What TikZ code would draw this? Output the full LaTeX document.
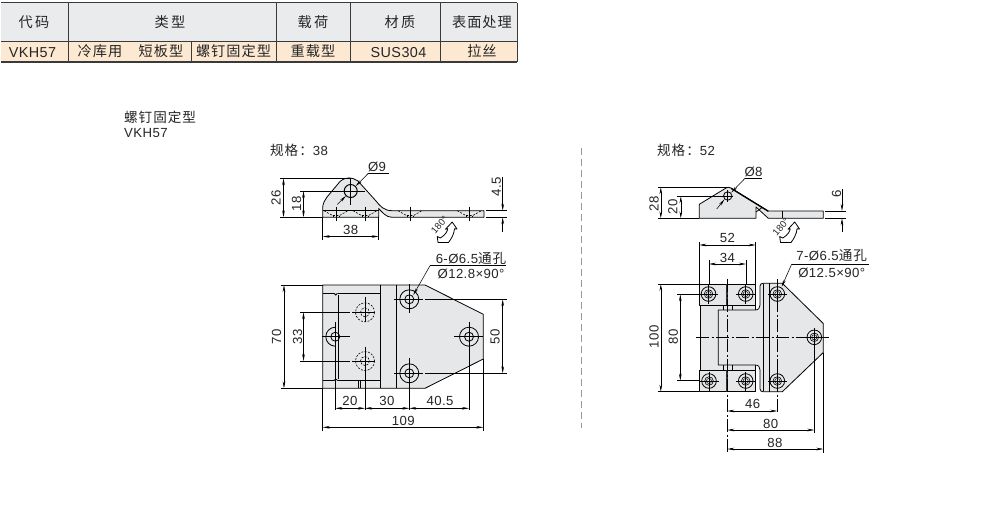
\documentclass[tikz,border=0pt]{standalone}
\usepackage{fontspec}
\setmainfont{Liberation Sans}[LetterSpace=3]
\newfontfamily\cjk{Noto Sans CJK SC}[LetterSpace=7]
\usetikzlibrary{arrows.meta}
\definecolor{partfill}{HTML}{E6E7E9}
\definecolor{headfill}{HTML}{E9EBED}
\definecolor{rowfill}{HTML}{FDE9D2}
\definecolor{ruleline}{HTML}{3A3A3A}
\tikzset{
  txt/.style={inner sep=0pt,text=black!85,font=\fontsize{13.2}{14}\selectfont},
  cell/.style={inner sep=0pt,text=black!85,font=\fontsize{14.4}{15}\selectfont},
  cellhan/.style={inner sep=0pt,text=black!85,font=\fontsize{14.2}{15}\selectfont\cjk},
  rule/.style={ruleline,line width=0.9pt},
  outline/.style={black,line width=0.8pt},
  part/.style={fill=partfill,draw=black,line width=0.8pt,line join=round},
  dimline/.style={black,line width=0.55pt},
  dimarr/.style={black,line width=0.55pt,{Stealth[length=7pt,width=2.6pt]}-{Stealth[length=7pt,width=2.6pt]}},
  onearr/.style={black,line width=0.55pt,-{Stealth[length=7pt,width=2.6pt]}},
  cl/.style={black,line width=0.6pt},
  dashcl/.style={black,line width=0.6pt,dash pattern=on 13pt off 2.5pt on 2pt off 2.5pt},
  hid/.style={black,line width=0.6pt,dash pattern=on 2pt off 1.4pt},
}
\newcommand{\hh}[1]{{\cjk\fontsize{13.6}{14}\selectfont #1}}
% dimension helpers
\newcommand{\Vd}[3]{\draw[dimarr] (#1,#2) -- (#1,#3);}
\newcommand{\Hd}[3]{\draw[dimarr] (#2,#1) -- (#3,#1);}
\newcommand{\Lb}[4]{\node[txt] (#1) at (#2,#3) {#4};}
\newcommand{\Lr}[4]{\node[txt,rotate=90] (#1) at (#2,#3) {#4};}
\newcommand{\Csink}[1]{%
  \draw[hid] (#1-12,210.7) -- (#1-3.5,215.5) -- (#1+3.5,215.5) -- (#1+12,210.7);
  \draw[outline] (#1-3,215.5) -- (#1-3,217.3) (#1+3,215.5) -- (#1+3,217.3);
  \draw[cl] (#1,206.5) -- (#1,221);
}
\newcommand{\Bolt}[2]{%
  \draw[outline] (#1,#2) circle (7.3);
  \draw[black,line width=0.6pt] (#1,#2) circle (4.3);
  \draw[black,line width=0.45pt] (#1,#2) circle (2.6);
  \draw[black,line width=0.5pt] (#1-9.5,#2) -- (#1+9.5,#2) (#1,#2-9.5) -- (#1,#2+9.5);
}
\newcommand{\Turn}[5]{%
\begin{scope}[shift={(#1,#2)}]
  \draw[fill=white,line width=0.8pt,line join=round]
    (1.7,-10) -- (6.5,-3) -- (4,-3.2) .. controls (3.6,2) and (1,6.5) .. (-2,10.5)
    -- (-12.5,10.5) -- (-13.3,4.5) -- (-10.2,6) .. controls (-5,3) and (-3,-1) .. (-2.8,-3.2) -- (-5,-2.8) -- cycle;
  \node[inner sep=0pt,rotate=50,text=black!85,font=\fontsize{9.5}{10}\selectfont] (#3) at (#4,#5) {180°};
\end{scope}}
\begin{document}
\begin{tikzpicture}[x=1pt,y=-1pt]
\useasboundingbox (0,0) rectangle (992,515);
\fill[white] (0,0) rectangle (992,515);

% ===== table =====
\fill[headfill] (1,3) rectangle (517,41.5);
\fill[rowfill] (1,41.5) rectangle (517,61.5);
\draw[rule] (1,2.5) -- (517,2.5);
\draw[rule] (1,41.5) -- (517,41.5);
\draw[rule,line width=1.2pt] (1,62) -- (517,62);
\foreach \x in {68,276,350,440,517} \draw[ruleline,line width=0.8pt] (\x,2.5) -- (\x,62);
\draw[ruleline,line width=0.8pt] (191,41.5) -- (191,62);
\node[cellhan] (h1) at (34,22) {代\,码};
\node[cellhan] (h2) at (170,22) {类\,型};
\node[cellhan] (h3) at (313,22) {载\,荷};
\node[cellhan] (h4) at (400,22) {材\,质};
\node[cellhan] (h5) at (482,22) {表面处理};
\node[cell] (c1) at (32.5,52.5) {VKH57};
\node[cellhan] (c2) at (100,51.5) {冷库用};
\node[cellhan] (c3) at (161,51.5) {短板型};
\node[cellhan] (c4) at (233.5,51.5) {螺钉固定型};
\node[cellhan] (c5) at (313,51.5) {重载型};
\node[cell] (c6) at (398.5,52.5) {SUS304};
\node[cellhan] (c7) at (482,51.5) {拉丝};

% ===== headings =====
\node[txt,anchor=west] (t1) at (124,117) {\hh{螺钉固定型}};
\node[txt,anchor=west] (t2) at (124,133) {VKH57};
\node[txt,anchor=west] (t3) at (270,150) {\hh{规格：}38};
\node[txt,anchor=west] (t4) at (657,150) {\hh{规格：}52};
\draw[gray!80,line width=0.9pt,dash pattern=on 6.5pt off 4.5pt] (581,148) -- (581,428);

% ===== left, side view =====
\draw[part] (322.7,217.3) -- (322.7,207) .. controls (323,203) and (325,200) .. (327,197)
  -- (340,181.5) .. controls (346,176.5) and (352,177) .. (358,181)
  -- (376,201) .. controls (380,206) and (384,210.7) .. (392,210.7)
  -- (484,210.7) -- (484,217.3) -- (392,217.3) .. controls (386,217.3) and (382,212) .. (378.7,208.5)
  -- (378.7,217.3) -- cycle;
\draw[outline] (322.7,210.7) -- (378.7,210.7);
\Csink{336}\Csink{365}\Csink{410}\Csink{469.3}
\draw[line width=1pt] (350.7,191) circle (6.5);
\draw[cl] (350.7,178) -- (350.7,205);
\draw[dimline] (300,191) -- (365,191);
\draw[dimline] (280,178.3) -- (350,178.3);
\draw[dimline] (280,217.3) -- (322.7,217.3);
\Vd{283.5}{178.3}{217.3}\Vd{303.5}{191}{217.3}
\Lr{a1}{276}{197.5}{26}\Lr{a2}{296.5}{203.5}{18}
\draw[dimline] (322.7,217.3) -- (322.7,240) (378.7,217.3) -- (378.7,240);
\Hd{236.5}{322.7}{378.7}
\Lb{a3}{350.7}{229.5}{38}
\draw[onearr] (368.3,173.3) -- (355.6,186.2);
\draw[onearr] (337.3,204.5) -- (346,195.8);
\draw[dimline] (368.3,173.3) -- (388.5,173.3);
\Lb{a4}{377}{166.5}{Ø9}
\draw[dimline] (485.5,210.7) -- (506.5,210.7) (485.5,217.3) -- (506.5,217.3);
\draw[onearr] (502.7,176.5) -- (502.7,210.7);
\draw[onearr] (502.7,232) -- (502.7,217.3);
\Lr{a5}{496.5}{187}{4.5}
\Turn{450.5}{232}{a6}{-11}{-7}

% ===== left, plan view =====
\draw[part] (322.7,285) -- (425,285) -- (483.3,314.3) -- (483.3,359) -- (425,388.3) -- (322.7,388.3) -- cycle;
\draw[outline] (380.7,285) -- (380.7,388.3) (396,285) -- (396,388.3);
\draw[outline] (322.7,293.3) -- (334,293.3) (337.5,293.3) -- (380.7,293.3);
\draw[outline] (322.7,380.5) -- (334,380.5) (337.5,380.5) -- (380.7,380.5);
\draw[outline] (334,293.3) .. controls (334.5,295.5) and (337,295.5) .. (337.5,293.3);
\draw[outline] (334,380.5) .. controls (334.5,378.3) and (337,378.3) .. (337.5,380.5);
\draw[outline] (338.4,295) -- (338.4,379);
\draw[outline] (358.5,380.5) -- (358.5,388.3) (360.5,380.5) -- (360.5,388.3);
% holes
\foreach \y in {299.3,373.3}{
  \draw[outline] (409.3,\y) circle (9.5);
  \draw[outline] (409.3,\y) circle (4.5);
}
\draw[outline] (469,336.7) circle (9.5);
\draw[outline] (469,336.7) circle (4.5);
\draw[outline] (335.3,346.2) arc (90:270:9.5);
\draw[outline] (335.3,336.7) circle (4.5);
\foreach \y in {312.3,361}{
  \draw[hid] (365,\y) circle (9.5);
  \draw[hid] (365,\y) circle (4.5);
}
% centre and extension lines
\draw[cl] (394,299.3) -- (423,299.3) (425,299.3) -- (506.5,299.3);
\draw[cl] (394,373.3) -- (423,373.3) (425,373.3) -- (506.5,373.3);
\draw[cl] (409.3,284) -- (409.3,313) (409.3,358) -- (409.3,410);
\draw[cl] (454,336.7) -- (483.3,336.7) (469,321.7) -- (469,410);
\draw[cl] (321.7,336.7) -- (350,336.7) (335.3,321.7) -- (335.3,410);
\draw[cl] (300,312.3) -- (350,312.3) (352,312.3) -- (375,312.3) (365,297) -- (365,322);
\draw[cl] (300,361) -- (350,361) (352,361) -- (375,361) (365,346.7) -- (365,410);
\draw[dimline] (280.5,285) -- (322.7,285) (280.5,388.3) -- (322.7,388.3);
\Vd{284}{285}{388.3}\Vd{303.5}{312.3}{361}\Vd{502.7}{299.3}{373.3}
\Lr{b1}{276.5}{336.7}{70}\Lr{b2}{297.5}{336.7}{33}\Lr{b3}{495}{336.7}{50}
\Hd{408.3}{335.3}{365}\Hd{408.3}{365}{409.3}\Hd{408.3}{409.3}{469}
\Lb{b4}{350}{401}{20}\Lb{b5}{387}{401}{30}\Lb{b6}{440}{401}{40.5}
\draw[dimline] (322.7,388.3) -- (322.7,431) (483.3,359) -- (483.3,431);
\Hd{427.3}{322.7}{483.3}
\Lb{b7}{403.3}{420.5}{109}
\draw[{Stealth[length=7pt,width=2.6pt]}-,dimline] (413.3,295) -- (430,265.7);
\draw[dimline] (430,265.7) -- (506,265.7);
\node[txt] (b8) at (471,258) {6-Ø6.5\hh{通孔}};
\node[txt] (b9) at (471,274) {Ø12.8×90°};

% ===== right, side view =====
\draw[part] (699.3,218.3) -- (699.3,204.3) -- (726,188) .. controls (727.5,187) and (729,187) .. (731,188)
  -- (768.3,211) -- (823.3,211) -- (823.3,218.3) -- (768.3,218.3) -- (756,207) -- (756,218.3) -- cycle;
\draw[line width=1.3pt] (731,188.3) -- (768.3,211.3);
\draw[outline] (782.7,211) -- (782.7,218.3);
\draw[outline] (756,212) -- (762,207.5);
\draw[outline] (727.7,196) circle (4.2);
\draw[cl] (722,196) -- (733,196) (727.7,190) -- (727.7,202);
\draw[dimline] (657.5,187.3) -- (727,187.3) (657.5,218.3) -- (699.3,218.3) (677,196.3) -- (727,196.3);
\Vd{660.8}{187.3}{218.3}\Vd{680.8}{196.3}{218.3}
\Lr{c1}{654}{203.5}{28}\Lr{c2}{672.7}{207}{20}
\draw[onearr] (745,178.3) -- (731.2,192.6);
\draw[onearr] (716.7,209) -- (724.5,199.3);
\draw[dimline] (745,178.3) -- (762,178.3);
\Lb{c3}{753.5}{172}{Ø8}
\draw[dimline] (825,211) -- (846,211) (825,218.3) -- (846,218.3);
\draw[onearr] (842,188.5) -- (842,211);
\draw[onearr] (842,231.5) -- (842,218.3);
\Lr{c4}{836.5}{193.5}{6}
\Turn{793}{232}{c5}{-12}{-5}

% ===== right, plan view =====
\draw[part] (700,305) -- (700,370) -- (755,370) -- (755,305) -- cycle;
\draw[part] (718.3,310) -- (755,310) .. controls (758.5,310) and (760,308) .. (760,305)
  -- (760,286) .. controls (760,284) and (761.5,283.3) .. (763.3,283.3)
  -- (782.3,283.3) -- (823.3,323.5) -- (823.3,352.5) -- (782.3,391.7) -- (763.3,391.7)
  .. controls (761.5,391.7) and (760,391) .. (760,389) -- (760,370)
  .. controls (760,367) and (758.5,365) .. (755,365) -- (718.3,365) -- cycle;
\draw[outline] (763.3,284) -- (763.3,391);
\draw[outline] (769,283.3) -- (769,391.7);
\draw[part] (699.3,284) rectangle (755.7,305);
\draw[part] (699.3,370) rectangle (755.7,391.7);
\draw[outline] (723.3,305) -- (723.3,310) (732,305) -- (732,310) (723.3,365) -- (723.3,370) (732,365) -- (732,370);
\fill[black!80] (726.3,283.5) rectangle (728.3,305);
\fill[black!80] (726.3,370) rectangle (728.3,391.7);
\Bolt{708.5}{294}\Bolt{745.7}{294}\Bolt{777.3}{294}
\Bolt{709}{381}\Bolt{745.7}{381}\Bolt{777.3}{381}\Bolt{814.3}{337.3}
\draw[dashcl] (696,337.3) -- (830,337.3);
\draw[dashcl] (727.3,279) -- (727.3,453);
\draw[dashcl] (777.3,279) -- (777.3,413);
\draw[cl] (814.3,346) -- (814.3,433);
\draw[dimline] (699.3,242) -- (699.3,284) (755.7,242) -- (755.7,284);
\draw[dimline] (709,260) -- (709,285) (746,260) -- (746,285);
\Hd{245}{699.3}{755.7}\Hd{264}{709}{746}
\Lb{d1}{727.3}{237.5}{52}\Lb{d2}{727.3}{257.5}{34}
\draw[dimline] (657.5,284) -- (699.3,284) (657.5,391.7) -- (699.3,391.7);
\draw[dimline] (677,294.3) -- (699,294.3) (677,380.7) -- (699,380.7);
\Vd{660.8}{284}{391.7}\Vd{680.3}{294.3}{380.7}
\Lr{d3}{654}{337}{100}\Lr{d4}{673.3}{337}{80}
\Hd{411}{727.3}{777.3}\Hd{430}{727.3}{814.3}\Hd{449}{727.3}{823.3}
\draw[dimline] (823.3,352.5) -- (823.3,453);
\Lb{d5}{752.7}{404.3}{46}\Lb{d6}{770.7}{423.8}{80}\Lb{d7}{775}{443}{88}
\draw[{Stealth[length=7pt,width=2.6pt]}-,dimline] (781.7,286.7) -- (791.7,264);
\draw[dimline] (791.7,264) -- (869,264);
\node[txt] (d8) at (831.7,255.5) {7-Ø6.5\hh{通孔}};
\node[txt] (d9) at (831.7,273.3) {Ø12.5×90°};
\end{tikzpicture}
\end{document}
